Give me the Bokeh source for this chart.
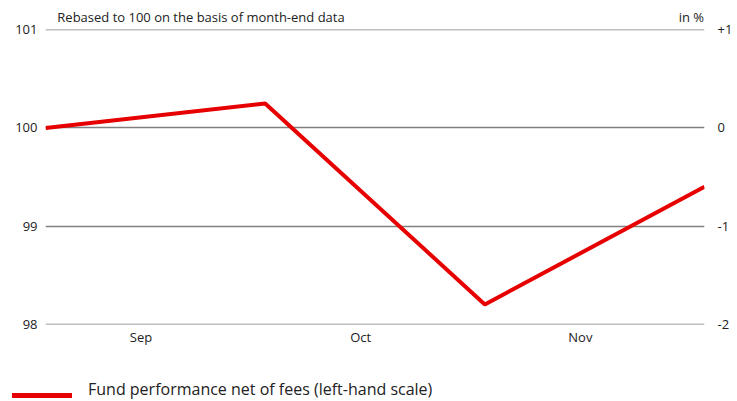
from bokeh.plotting import figure
from bokeh.layouts import column
from bokeh.models import (Range1d, LinearAxis, FixedTicker, ColumnDataSource, Div)
from bokeh.embed import file_html
from bokeh.resources import INLINE

# Data (month-end values, rebased to 100)
month_end = ["Aug", "Sep", "Oct", "Nov"]
month_index = [0, 1, 2, 3]
fund_values = [100.0, 100.25, 98.2, 99.4]
month_labels = ["Sep", "Oct", "Nov"]
month_label_pos = [0.435, 1.435, 2.435]
left_ticks = [98, 99, 100, 101]
right_ticks = [-2, -1, 0, 1]
right_tick_labels = ["-2", "-1", "0", "+1"]
header_texts = ["Rebased to 100 on the basis of month-end data", "in %"]
header_pos = [0.708, 2.94]
series_name = "Fund performance net of fees (left-hand scale)"

FONT = "Open Sans"
GRID = "#808080"
RED = "#e60000"
TXT = "#222222"

p = figure(frame_width=659, frame_height=295, output_backend="svg", toolbar_location=None,
           x_range=Range1d(0, 3), y_range=Range1d(97.995, 101.005),
           min_border_left=45, min_border_right=33, min_border_top=29, min_border_bottom=46,
           x_axis_location=None, y_axis_location=None)
p.outline_line_color = None
p.background_fill_color = "white"
p.border_fill_color = "white"

p.extra_y_ranges = {"pct": Range1d(-2.005, 1.005)}

yl = LinearAxis(ticker=FixedTicker(ticks=left_ticks))
yr = LinearAxis(y_range_name="pct", ticker=FixedTicker(ticks=right_ticks),
                major_label_overrides={t: s for t, s in zip(right_ticks, right_tick_labels)})
xb = LinearAxis(ticker=FixedTicker(ticks=month_label_pos),
                major_label_overrides={t: s for t, s in zip(month_label_pos, month_labels)})
xt = LinearAxis(ticker=FixedTicker(ticks=header_pos),
                major_label_overrides={t: s for t, s in zip(header_pos, header_texts)})

for ax in (yl, yr, xb, xt):
    ax.axis_line_color = None
    ax.major_tick_line_color = None
    ax.minor_tick_line_color = None
    ax.major_tick_out = 0
    ax.major_tick_in = 0
    ax.minor_tick_out = 0
    ax.major_label_text_font = FONT
    ax.major_label_text_font_size = "13px"
    ax.major_label_text_color = TXT
yl.major_label_standoff = 8
yr.major_label_standoff = 13
xb.major_label_standoff = 3
xt.major_label_standoff = 4

p.add_layout(yl, "left")
p.add_layout(yr, "right")
p.add_layout(xb, "below")
p.add_layout(xt, "above")

p.xgrid.visible = False
p.ygrid.ticker = FixedTicker(ticks=left_ticks)
p.ygrid.grid_line_color = GRID
p.ygrid.grid_line_width = 1.6

src = ColumnDataSource(dict(x=month_index, y=fund_values, m=month_end))
p.line("x", "y", source=src, line_color=RED, line_width=4)

# Legend strip underneath the chart
legend_html = (
    f'<div style="position:relative;width:737px;height:31px;font-family:\'{FONT}\';'
    f'font-size:16px;line-height:21px;color:{TXT};">'
    f'<span style="position:absolute;left:12px;top:23px;width:60px;height:5px;'
    f'background:{RED};"></span>'
    f'<span style="position:absolute;left:88px;top:9px;white-space:nowrap;">{series_name}</span>'
    f'</div>'
)
legend_div = Div(text=legend_html, width=737, height=31, margin=0)

layout = column(p, legend_div, spacing=0)
open("out.html", "w").write(file_html(layout, INLINE))
